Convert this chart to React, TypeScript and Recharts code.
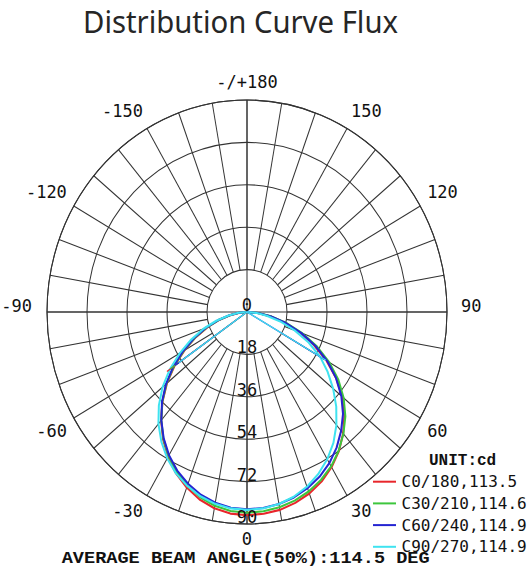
import React from "react";
import {
  RadarChart,
  Radar,
  PolarGrid,
  PolarAngleAxis,
  PolarRadiusAxis,
} from "recharts";

// gamma angles of one half plane (0 = straight down, 90 = horizontal)
const GAMMA = [0, 5, 10, 15, 20, 25, 30, 35, 40, 45, 50, 55, 60, 65, 70, 75, 80, 85, 90];

const SERIES_NAMES = ["C0/180", "C30/210", "C60/240", "C90/270"];
const BEAM_ANGLES = [113.5, 114.6, 114.9, 114.9];
const COLORS = ["#e8262b", "#3dc63d", "#2424d2", "#3fe3f0"];

// intensity in cd, right half plane (C0, C30, C60, C90)
const C0 = [86.3, 86.0, 85.3, 83.9, 82.0, 79.4, 76.1, 72.1, 67.3, 62.0, 55.9, 49.0, 41.3, 33.2, 25.2, 17.5, 10.6, 4.7, 0];
const C30 = [85.2, 84.9, 84.2, 82.9, 81.1, 78.7, 75.7, 71.9, 67.5, 62.6, 56.8, 50.2, 42.8, 34.8, 26.6, 18.6, 11.3, 5.1, 0];
const C60 = [83.8, 83.5, 82.8, 81.5, 79.6, 77.2, 74.1, 70.3, 65.9, 61.1, 55.4, 48.9, 41.7, 33.9, 25.9, 18.1, 11.0, 5.0, 0];
const C90 = [84.0, 83.7, 82.8, 81.2, 78.9, 75.9, 72.2, 67.8, 62.6, 56.8, 50.6, 44.3, 38.0, 30.6, 22.8, 15.5, 9.0, 4.0, 0];

// left half plane (C180, C210, C240, C270)
const C180 = [86.3, 85.9, 84.6, 82.4, 79.3, 75.6, 71.1, 65.9, 60.1, 53.8, 47.0, 39.8, 32.4, 25.5, 19.0, 13.0, 7.6, 3.4, 0];
const C210 = [85.2, 84.8, 83.5, 81.4, 78.5, 74.9, 70.6, 65.6, 60.0, 53.9, 47.3, 40.2, 32.8, 25.9, 19.4, 13.2, 7.8, 3.5, 0];
const C240 = [83.8, 83.4, 82.2, 80.3, 77.6, 74.3, 70.2, 65.4, 60.0, 54.1, 47.6, 40.6, 33.3, 26.4, 19.8, 13.6, 8.0, 3.6, 0];
const C270 = [84.0, 83.7, 82.7, 81.0, 78.6, 75.6, 71.8, 67.2, 62.0, 56.1, 49.6, 42.4, 34.9, 27.7, 20.8, 14.3, 8.4, 3.8, 0];

// straight chords from the centre drawn by the source plot
const CHORD_LEFT_GAMMA = 305;
const CHORD_LEFT = [44, 42, 39.5, 37.5];
const CHORD_RIGHT_GAMMA = 60;
const CHORD_RIGHT = [0, 0, 40, 41];

const RING_TICKS = [0, 18, 36, 54, 72, 90];
const ANGLE_TICKS = [0, 30, 60, 90, 120, 150, 180, 210, 240, 270, 300, 330];

const RIGHT = [C0, C30, C60, C90];
const LEFT = [C180, C210, C240, C270];
const KEYS = ["c0", "c30", "c60", "c90"];

const STEP = GAMMA[1] - GAMMA[0];
const ANGLES = Array.from({ length: 360 / STEP }, (_, i) => i * STEP);

const rows = ANGLES.map((a) => {
  const row: Record<string, number> = { angle: a };
  KEYS.forEach((k, s) => {
    let v = 0;
    if (a <= 90) v = RIGHT[s][GAMMA.indexOf(a)];
    else if (a >= 270) v = LEFT[s][GAMMA.indexOf(360 - a)];
    row[k] = v;
    row[k + "_chord"] =
      a === CHORD_LEFT_GAMMA ? CHORD_LEFT[s] : a === CHORD_RIGHT_GAMMA ? CHORD_RIGHT[s] : 0;
  });
  return row;
});

const SIZE = 500;
const OUTER = 200;
const SPOKES = Array.from({ length: 36 }, (_, i) => -90 + i * 10);
const AXES = [-90, 0, 90, 180];
const MONO = "'DejaVu Sans Mono', monospace";

function AngleTick(props: any) {
  const { x, y, payload } = props;
  const g = Number(payload?.value);
  const label = g === 180 ? "-/+180" : g < 180 ? String(g) : String(g - 360);
  const s = Math.sin((g * Math.PI) / 180);
  const c = Math.cos((g * Math.PI) / 180);
  const anchor = s > 0.1 ? "start" : s < -0.1 ? "end" : "middle";
  const dx = Math.abs(c) < 0.1 ? (s > 0 ? 6 : -7) : 0;
  const dy = c > 0.95 ? 11.5 : c > 0.1 ? 13.5 : c < -0.1 ? -3.5 : 0;
  return (
    <text
      x={x + dx}
      y={y + dy}
      textAnchor={anchor}
      fontFamily={MONO}
      fontSize={17}
      fill="#111"
    >
      {label}
    </text>
  );
}

function RingTick(props: any) {
  const { x, y, payload } = props;
  return (
    <text x={x} y={y - 1} textAnchor="middle" fontFamily={MONO} fontSize={17} fill="#111">
      {payload?.value}
    </text>
  );
}

export default function App() {
  const chartBox: React.CSSProperties = {
    position: "absolute",
    left: 0,
    top: 0,
  };
  return (
    <div
      style={{
        position: "absolute",
        left: 0,
        top: 0,
        width: 529,
        height: 569,
        background: "#fff",
        overflow: "hidden",
      }}
    >
      <div
        style={{
          position: "absolute",
          left: -3.3,
          top: 61.7,
          width: SIZE,
          height: SIZE,
          transform: "scaleY(1.06)",
          transformOrigin: "250px 250px",
        }}
      >
        <div style={chartBox}>
          <RadarChart
            width={SIZE}
            height={SIZE}
            data={rows}
            cx="50%"
            cy="50%"
            innerRadius={OUTER / 5}
            outerRadius={OUTER}
            startAngle={-90}
            endAngle={270}
            margin={{ top: 0, right: 0, bottom: 0, left: 0 }}
          >
            <PolarGrid
              gridType="circle"
              polarAngles={SPOKES}
              polarRadius={[OUTER]}
              stroke="#333"
              strokeWidth={1}
            />
          </RadarChart>
        </div>
        <div style={chartBox}>
          <RadarChart
            width={SIZE}
            height={SIZE}
            data={rows}
            cx="50%"
            cy="50%"
            innerRadius={0}
            outerRadius={OUTER}
            startAngle={-90}
            endAngle={270}
            margin={{ top: 0, right: 0, bottom: 0, left: 0 }}
          >
            <PolarGrid gridType="circle" polarAngles={AXES} stroke="#333" strokeWidth={1} />
            <PolarAngleAxis
              dataKey="angle"
              type="number"
              domain={[0, 360]}
              ticks={ANGLE_TICKS}
              axisLine={false}
              tickLine={false}
              tickSize={8}
              tick={<AngleTick />}
            />
            <PolarRadiusAxis
              angle={-90}
              domain={[0, 90]}
              ticks={RING_TICKS}
              type="number"
              axisLine={false}
              tickLine={false}
              tick={<RingTick />}
            />
            {KEYS.map((k, s) => (
              <Radar
                key={k}
                dataKey={k}
                stroke={COLORS[s]}
                strokeWidth={2}
                strokeLinejoin="round"
                fill="none"
                fillOpacity={0}
                dot={false}
                isAnimationActive={false}
              />
            ))}
            {KEYS.map((k, s) => (
              <Radar
                key={k + "_chord"}
                dataKey={k + "_chord"}
                stroke={COLORS[s]}
                strokeWidth={1.2}
                fill="none"
                fillOpacity={0}
                dot={false}
                isAnimationActive={false}
              />
            ))}
          </RadarChart>
        </div>
      </div>
      <svg
        width={529}
        height={569}
        style={{ position: "absolute", left: 0, top: 0, pointerEvents: "none" }}
      >
        <text
          x={83}
          y={33}
          fontFamily="'Noto Sans', 'Open Sans', sans-serif"
          fontSize={31}
          fill="#262626"
          textLength={315}
          lengthAdjust="spacingAndGlyphs"
        >
          Distribution Curve Flux
        </text>
        <text
          x={429}
          y={465}
          fontFamily="'Liberation Mono', monospace"
          fontWeight="bold"
          fontSize={16}
          fill="#111"
        >
          UNIT:cd
        </text>
        {SERIES_NAMES.map((name, i) => {
          const yy = 481.7 + i * 21.7;
          return (
            <g key={name}>
              <line x1={373} x2={396} y1={yy} y2={yy} stroke={COLORS[i]} strokeWidth={2} />
              <text x={401.5} y={yy + 5.5} fontFamily={MONO} fontSize={16} fill="#111">
                {`${name},${BEAM_ANGLES[i].toFixed(1)}`}
              </text>
            </g>
          );
        })}
        <text
          x={61.7}
          y={562.5}
          fontFamily="'Liberation Mono', monospace"
          fontWeight="bold"
          fontSize={16.5}
          fill="#111"
          textLength={368}
          lengthAdjust="spacingAndGlyphs"
        >
          AVERAGE BEAM ANGLE(50%):114.5 DEG
        </text>
      </svg>
    </div>
  );
}
